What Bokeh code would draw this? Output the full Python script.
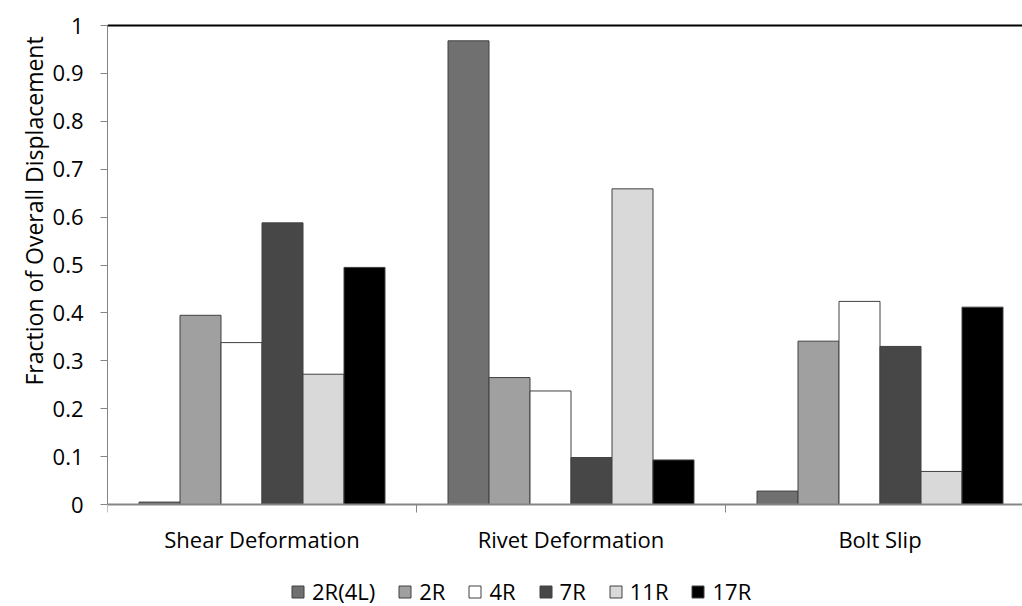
from bokeh.plotting import figure
from bokeh.models import (Range1d, FixedTicker, CustomJSTickFormatter, Span, Title,
                          Legend)
from bokeh.embed import file_html
from bokeh.resources import INLINE

# ---- data ----
categories = ["Shear Deformation", "Rivet Deformation", "Bolt Slip"]
series = ["2R(4L)", "2R", "4R", "7R", "11R", "17R"]
v_2R4L = [0.005, 0.968, 0.028]
v_2R = [0.395, 0.265, 0.341]
v_4R = [0.338, 0.237, 0.424]
v_7R = [0.588, 0.098, 0.330]
v_11R = [0.272, 0.659, 0.069]
v_17R = [0.495, 0.093, 0.412]
values = [v_2R4L, v_2R, v_4R, v_7R, v_11R, v_17R]
colors = ["#707070", "#a0a0a0", "#ffffff", "#474747", "#d9d9d9", "#000000"]
y_ticks = [round(i * 0.1, 1) for i in range(11)]

FONT = "Open Sans"
FS = "22px"

# frame covers 23..606 vertically; value 0 sits 102 px above the bottom, value 1 at 25
p = figure(width=1022, height=606, output_backend="svg", toolbar_location=None,
           x_range=Range1d(0, 915 / 309), y_range=Range1d(-102 / 479, 1 + 2 / 479))
p.min_border_left = 107
p.min_border_right = 0
p.min_border_top = 23
p.min_border_bottom = 0
p.outline_line_color = None
p.xgrid.visible = False
p.ygrid.visible = False
p.background_fill_color = "white"
p.border_fill_color = "white"

n = len(series)
bw = 41 / 309
start = 0.5 - n * bw / 2
renderers = []
for j, (name, vals, col) in enumerate(zip(series, values, colors)):
    xs = [i + start + (j + 0.5) * bw for i in range(len(categories))]
    r = p.vbar(x=xs, top=vals, width=bw, bottom=0, fill_color=col,
               line_color="#404040", line_width=1)
    renderers.append((name, [r]))

# top line at 1
p.add_layout(Span(location=1, dimension="width", line_color="black", line_width=2))

# y axis
ya = p.yaxis[0]
ya.ticker = FixedTicker(ticks=y_ticks, minor_ticks=[])
ya.formatter = CustomJSTickFormatter(code="return tick.toFixed(1).replace(/\\.0$/, '');")
ya.bounds = (0, 1)
ya.axis_line_color = "#868686"
ya.major_tick_line_color = "#868686"
ya.major_tick_out = 7
ya.major_tick_in = 0
ya.major_label_standoff = 17
ya.major_label_text_font = FONT
ya.major_label_text_font_size = FS
ya.major_label_text_color = "black"

# x axis, fixed at value 0
xa = p.xaxis[0]
xa.fixed_location = 0
xa.ticker = FixedTicker(ticks=[i + 0.5 for i in range(len(categories))],
                        minor_ticks=[i for i in range(len(categories) + 1)])
xa.formatter = CustomJSTickFormatter(args=dict(cats=categories),
                                     code="return cats[Math.floor(tick)];")
xa.axis_line_color = "#868686"
xa.axis_line_width = 2
xa.major_tick_line_color = None
xa.major_tick_out = 0
xa.major_tick_in = 0
xa.minor_tick_line_color = "#868686"
xa.minor_tick_out = 8
xa.minor_tick_in = 0
xa.major_label_standoff = 11
xa.major_label_text_font = FONT
xa.major_label_text_font_size = FS
xa.major_label_text_color = "black"

# y axis title (left side panel)
p.add_layout(Title(text="Fraction  of Overall Displacement", align="left", offset=221,
                   text_font=FONT, text_font_size="23px", text_font_style="normal",
                   text_color="black", standoff=0), "left")

legend = Legend(items=renderers, orientation="horizontal", location=(183, 0),
                glyph_width=15, glyph_height=15, label_standoff=7, spacing=22,
                label_height=15, padding=0, margin=0,
                border_line_color=None, background_fill_alpha=0,
                label_text_font=FONT, label_text_font_size=FS,
                label_text_color="black")
p.add_layout(legend, "center")

open("out.html", "w").write(file_html(p, INLINE))
